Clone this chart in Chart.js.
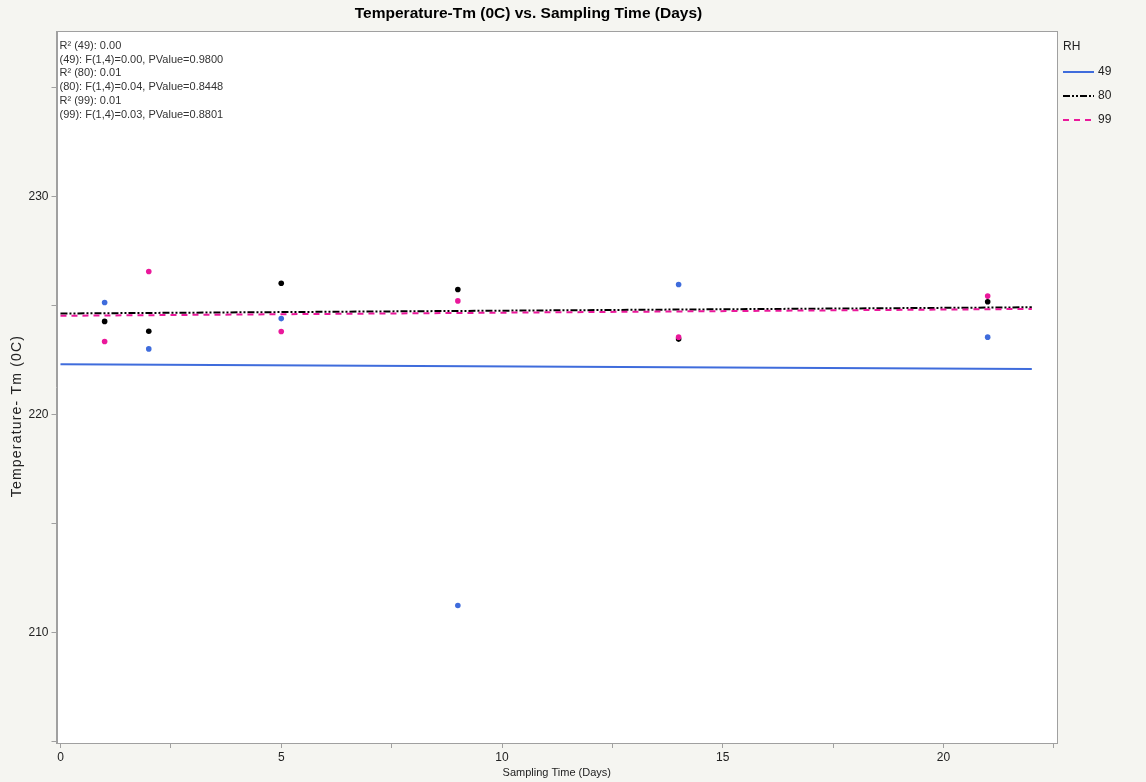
<!DOCTYPE html>
<html>
<head>
<meta charset="utf-8">
<title>Temperature-Tm (0C) vs. Sampling Time (Days)</title>
<script src="https://cdn.jsdelivr.net/npm/chart.js"></script>
<style>
  html, body { margin: 0; padding: 0; background: #f5f5f1; }
  canvas { display: block; }
</style>
</head>
<body>
<canvas id="tmChart" width="1146" height="782"></canvas>
<script>
// sampling days and measured Tm (°C) for each RH group
const days = [1, 2, 5, 9, 14, 21];
const tm49 = [225.14, 223.01, 224.40, 211.25, 225.96, 223.55];
const tm80 = [224.27, 223.82, 226.02, 225.73, 223.46, 225.17];
const tm99 = [223.35, 226.56, 223.81, 225.21, 223.55, 225.43];
const rhGroups = ["49", "80", "99"];
const fitRange = [0, 22];

const statLines = [
  "R\u00b2 (49): 0.00",
  "(49): F(1,4)=0.00, PValue=0.9800",
  "R\u00b2 (80): 0.01",
  "(80): F(1,4)=0.04, PValue=0.8448",
  "R\u00b2 (99): 0.01",
  "(99): F(1,4)=0.03, PValue=0.8801"
];

const colors = ["#3f6cdc", "#000000", "#ea189b"];
const dashes = [[], [7, 2, 2, 2, 2, 2], [6, 5]];
const FONT = "Arial, 'Liberation Sans', sans-serif";

// least squares line over the fit range
function linFit(xs, ys) {
  const n = xs.length;
  const mx = xs.reduce((a, b) => a + b, 0) / n;
  const my = ys.reduce((a, b) => a + b, 0) / n;
  let sxy = 0, sxx = 0;
  for (let i = 0; i < n; i++) {
    sxy += (xs[i] - mx) * (ys[i] - my);
    sxx += (xs[i] - mx) * (xs[i] - mx);
  }
  const slope = sxy / sxx;
  const icpt = my - slope * mx;
  return fitRange.map(x => ({ x: x, y: icpt + slope * x }));
}

const series = [tm49, tm80, tm99];

const datasets = [];
series.forEach((ys, i) => {
  datasets.push({
    type: "scatter",
    label: rhGroups[i],
    data: days.map((d, k) => ({ x: d, y: ys[k] })),
    backgroundColor: colors[i],
    borderWidth: 0,
    pointRadius: 2.8,
    pointHoverRadius: 2.8,
    order: 3 - i
  });
});
series.forEach((ys, i) => {
  datasets.push({
    type: "line",
    label: rhGroups[i] + " fit",
    data: linFit(days, ys),
    borderColor: colors[i],
    borderWidth: 2,
    borderDash: dashes[i],
    pointRadius: 0,
    fill: false,
    order: 10 - i
  });
});

// white plot area, frame, stats text, legend and y title
const decorations = {
  id: "decorations",
  beforeDraw(chart) {
    const { ctx, chartArea: a } = chart;
    ctx.save();
    ctx.fillStyle = "#ffffff";
    ctx.fillRect(a.left, a.top, a.right - a.left, a.bottom - a.top);
    ctx.restore();
  },
  afterDraw(chart) {
    const { ctx, chartArea: a } = chart;
    ctx.save();
    ctx.strokeStyle = "#a0a0a0";
    ctx.lineWidth = 1;
    ctx.strokeRect(Math.round(a.left) + 0.5, Math.round(a.top) + 0.5,
      Math.round(a.right - a.left) - 1, Math.round(a.bottom - a.top));

    // fit statistics
    ctx.fillStyle = "#333333";
    ctx.font = "11px " + FONT;
    ctx.textBaseline = "middle";
    ctx.textAlign = "left";
    statLines.forEach((t, i) => ctx.fillText(t, a.left + 3, 46 + i * 13.7));

    // legend
    const lx = a.right + 6;
    ctx.fillStyle = "#222222";
    ctx.font = "12px " + FONT;
    ctx.fillText("RH", lx, 47);
    rhGroups.forEach((g, i) => {
      const y = 72 + i * 24;
      ctx.beginPath();
      ctx.setLineDash(dashes[i]);
      ctx.strokeStyle = colors[i];
      ctx.lineWidth = 2;
      ctx.moveTo(lx, y);
      ctx.lineTo(lx + 31, y);
      ctx.stroke();
      ctx.setLineDash([]);
      ctx.fillText(g, lx + 35, y);
    });

    // y axis title
    ctx.translate(17, 416);
    ctx.rotate(-Math.PI / 2);
    ctx.textAlign = "center";
    ctx.font = "14px " + FONT;
    ctx.letterSpacing = "1.2px";
    ctx.fillText("Temperature- Tm (0C)", 0, 0);
    ctx.restore();
  }
};

new Chart(document.getElementById("tmChart"), {
  data: { datasets: datasets },
  plugins: [decorations],
  options: {
    responsive: false,
    animation: false,
    layout: { padding: { left: 0, right: 89, top: 0, bottom: 0 } },
    plugins: {
      legend: { display: false },
      tooltip: { enabled: false },
      title: {
        display: true,
        text: "Temperature-Tm (0C) vs. Sampling Time (Days)",
        color: "#000000",
        font: { family: FONT, size: 15.5, weight: "bold" },
        padding: { top: 4, bottom: 8.6 }
      }
    },
    scales: {
      x: {
        type: "linear",
        position: "bottom",
        min: -0.09,
        max: 22.57,
        afterFit: s => { s.height = 39; },
        ticks: {
          stepSize: 2.5,
          includeBounds: false,
          autoSkip: false,
          maxRotation: 0,
          padding: 2,
          color: "#222222",
          font: { family: FONT, size: 12 },
          callback: v => (Math.abs(v % 5) < 1e-6 ? String(Math.round(v)) : "")
        },
        grid: { drawOnChartArea: false, tickLength: 5, color: "#a0a0a0" },
        border: { display: true, color: "#a0a0a0" },
        title: {
          display: true,
          text: "Sampling Time (Days)",
          color: "#222222",
          font: { family: FONT, size: 11 },
          padding: { top: 0, bottom: 2 }
        }
      },
      y: {
        type: "linear",
        position: "left",
        min: 204.95,
        max: 237.57,
        afterFit: s => { s.width = 56.5; },
        ticks: {
          stepSize: 5,
          includeBounds: false,
          padding: 3,
          color: "#222222",
          font: { family: FONT, size: 12 },
          callback: v => (Math.abs(v % 10) < 1e-6 ? String(Math.round(v)) : "")
        },
        grid: { drawOnChartArea: false, tickLength: 5, color: "#a0a0a0" },
        border: { display: true, color: "#a0a0a0" }
      }
    }
  }
});
</script>
</body>
</html>
